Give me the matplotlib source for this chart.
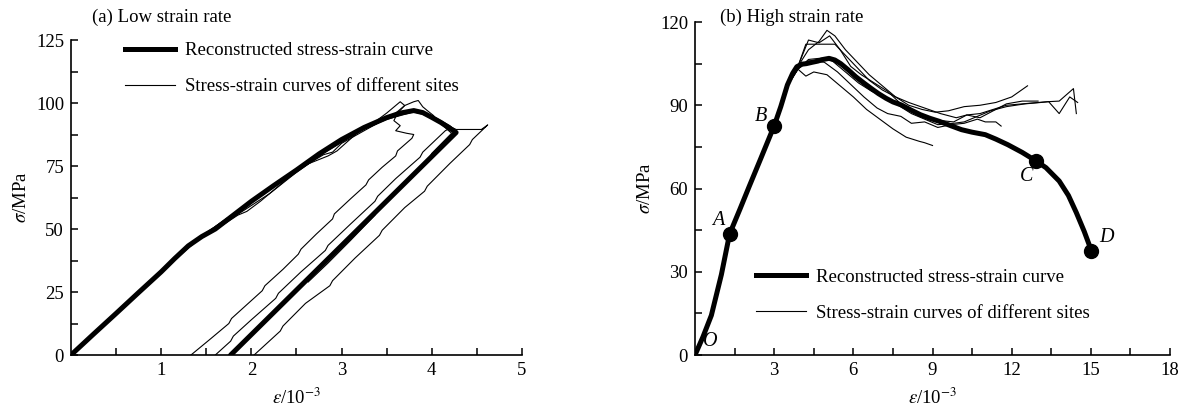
import matplotlib
matplotlib.use("Agg")
import matplotlib.pyplot as plt
from matplotlib.lines import Line2D
from matplotlib.ticker import MultipleLocator, FixedLocator

plt.rcParams['font.family'] = ['Liberation Serif', 'DejaVu Serif']
plt.rcParams['mathtext.fontset'] = 'stix'

# ---- (a) low strain rate ----
low_recon_x = [0, 0.25, 0.5, 0.75, 1.0, 1.15, 1.3, 1.45, 1.6, 1.8, 2.0, 2.25, 2.5, 2.75, 3.0,
               3.25, 3.5, 3.65, 3.8, 3.9, 4.0, 4.1, 4.2, 4.27, 1.77]
low_recon_y = [0, 8.3, 16.5, 24.8, 33, 38.3, 43.3, 47, 50, 55.5, 61, 67.3, 73.4, 79.8, 85.5,
               90.3, 94.2, 96, 97, 96.2, 94.3, 92.3, 90, 88.3, 0]

low_sites = [
    ([0, 0.3, 0.6, 1.0, 1.3, 1.6, 1.9, 2.2, 2.5, 2.8, 3.1, 3.35, 3.5, 3.65, 3.7, 3.62, 3.58,
      3.65, 3.6, 3.72, 3.8, 3.78, 3.62, 3.6, 3.45, 3.3, 3.27, 3.1, 2.92, 2.9, 2.72, 2.55,
      2.52, 2.35, 2.15, 2.12, 1.95, 1.78, 1.75, 1.55, 1.33],
     [0, 10, 20.5, 33.5, 43, 50, 57, 64, 72.5, 80, 86.5, 92, 96, 100.5, 99, 96, 93,
      91, 89, 88, 87.5, 86, 81, 79, 74.5, 69.5, 67.5, 62, 56, 54, 48, 42, 40, 34, 27.5,
      25.5, 20, 14.5, 12.5, 6.5, 0]),
    ([0, 0.3, 0.7, 1.0, 1.3, 1.7, 1.85, 1.95, 2.1, 2.5, 2.8, 2.9, 3.0, 3.3, 3.6, 3.7, 3.8,
      3.85, 3.9, 3.95, 4.02, 4.06, 4.12, 4.2, 4.15, 3.9, 3.87, 3.6, 3.4, 3.37, 3.1, 2.85,
      2.82, 2.55, 2.3, 2.27, 2.0, 1.8, 1.77, 1.6],
     [0, 9.5, 23, 33, 43.5, 52, 55.5, 57, 61, 73, 79.5, 80.5, 84, 90, 96, 99, 100.5,
      101, 98.5, 97, 95, 93, 92, 90, 89, 80.5, 78.5, 70, 63, 61, 52, 43.5, 41.5, 33, 24.5,
      22.5, 14, 7.5, 5.5, 0]),
    ([0, 0.5, 1.0, 1.3, 1.6, 2.0, 2.5, 3.0, 3.5, 3.8, 4.0, 4.2, 4.28, 4.0, 3.97, 3.6,
      3.3, 3.27, 3.0, 2.7, 2.67, 2.4, 2.0, 1.97, 1.8, 1.75],
     [0, 17, 33, 43.5, 49.5, 61.5, 73, 86, 94.5, 97.5, 95, 91, 88.5, 79, 77, 65,
      54.5, 52.5, 43.5, 33, 31, 22, 8.5, 6.5, 1, 0]),
    ([0, 0.4, 1.0, 1.4, 2.0, 2.5, 2.85, 2.95, 3.2, 3.5, 3.8, 4.0, 4.15, 4.27, 4.4, 4.55,
      4.62, 4.45, 4.42, 4.2, 3.95, 3.92, 3.7, 3.45, 3.42, 3.15, 2.9, 2.87, 2.6, 2.35,
      2.32, 2.03],
     [0, 13.5, 33.5, 46, 61, 74, 79, 81, 89, 93.5, 96.5, 94.5, 91.5, 89.5, 89.5, 89.5,
      91.3, 85.5, 83.5, 76, 67, 65, 58.5, 49.5, 47.5, 38.5, 29.5, 27.5, 20.5, 11.5,
      9.5, 0]),
    ([0, 0.5, 1.0, 1.5, 2.0, 2.5, 3.0, 3.5, 3.8, 4.0, 4.22, 4.0, 3.97, 3.7, 3.4, 3.37,
      3.1, 2.85, 2.63],
     [0, 16, 33.2, 48.5, 61, 73.8, 85.8, 94, 96.8, 94.8, 88, 80, 78, 68.5, 57.5, 55.5,
      45.5, 36.5, 29]),
]

# ---- (b) high strain rate ----
high_recon_x = [0, 0.3, 0.62, 1.0, 1.31, 1.7, 2.06, 2.5, 3.0, 3.25, 3.5, 3.7, 3.86, 4.05,
                4.22, 4.45, 4.65, 4.85, 5.08, 5.3, 5.52, 5.8, 6.09, 6.4, 6.67, 6.95, 7.24,
                7.5, 7.82, 8.2, 8.54, 8.9, 9.26, 9.7, 10.1, 10.5, 11.0, 11.4, 11.85, 12.4,
                12.93, 13.3, 13.8, 14.15, 14.45, 14.75, 15.02]
high_recon_y = [0, 6.5, 14.3, 29, 43.6, 52.5, 60.9, 71, 82.6, 89.5, 97.3, 101.5, 103.9, 104.8,
                105, 105.5, 105.9, 106.5, 106.9, 106.3, 105, 102.8, 100.3, 98, 96.1, 94.2, 92.5,
                91.2, 90.1, 88.2, 86.6, 85.3, 84.2, 82.6, 81.2, 80.3, 79.4, 77.8, 75.8, 73,
                69.9, 67.5, 62.7, 57.5, 51.3, 44.5, 37.6]

high_sites = [
    ([3.5, 3.9, 4.3, 4.7, 5.0, 5.3, 5.7, 6.1, 6.6, 7.1, 7.6, 8.1, 8.6, 9.1, 9.6, 10.2, 10.8,
      11.4, 12.0, 12.6],
     [97, 104, 110, 113, 117, 115, 110, 106, 101, 97, 93, 90, 88.5, 87.5, 88, 89.5, 90,
      91, 93, 97]),
    ([3.5, 3.9, 4.2, 4.6, 5.3, 5.7, 6.1, 6.6, 7.1, 7.6, 8.1, 8.7, 9.3, 9.9, 10.3, 10.8, 11.3,
      11.8, 12.4, 13.0, 13.4, 13.8, 14.34, 14.45],
     [97, 104, 112, 112, 112, 108, 104, 99, 95.5, 93, 91, 89, 87, 85.5, 86.5, 87, 88.5,
      90, 90.5, 91, 91.3, 91.5, 96, 87]),
    ([3.5, 3.9, 4.3, 4.8, 5.2, 5.7, 6.2, 6.7, 7.2, 7.7, 8.2, 8.7, 9.2, 9.8, 10.2, 10.7, 11.2,
      11.8, 12.5, 13.1, 13.4, 13.8, 14.2, 14.5],
     [97, 103, 106.5, 107, 106, 102, 98, 95, 93, 90, 87, 85, 83, 83.5, 84, 86, 88,
      89.5, 90.5, 91, 91.3, 87, 93, 91]),
    ([3.5, 3.9, 4.2, 4.5, 5.0, 5.5, 6.0, 6.5, 7.0, 7.5, 8.0, 8.5, 8.7, 9.0],
     [97, 103, 100.5, 102, 101, 97, 93, 88.5, 85, 81.5, 78.5, 77, 76.5, 75.5]),
    ([3.5, 3.9, 4.3, 4.9, 5.4, 5.9, 6.4, 6.9, 7.3, 7.8, 8.2, 8.7, 9.2, 9.7, 10.2, 10.7, 11.0,
      11.4, 11.6],
     [97, 103, 106, 105.5, 102, 97.5, 93, 89, 87, 86, 83.5, 84, 82, 83, 83.5, 85, 84,
      84, 82.5]),
    ([3.5, 3.9, 4.3, 4.7, 5.1, 5.5, 5.9, 6.3, 6.8, 7.3, 7.8, 8.3, 8.8, 9.3, 9.8, 10.3, 10.8,
      11.3, 11.8, 12.4, 13.0],
     [97, 104, 113.5, 112.5, 115, 110, 104, 101, 98, 95, 90.5, 87.5, 85.5, 84.5, 84, 86.5,
      85.5, 88, 90.5, 91.5, 91.5]),
]

point_x = [1.31, 3.0, 12.93, 15.02]
point_y = [43.6, 82.6, 69.9, 37.6]
label_names = ['A', 'B', 'C', 'D', 'O']
label_x = [0.88, 2.49, 12.57, 15.6, 0.59]
label_y = [48.4, 86.0, 64.5, 42.4, 4.8]

FS = 13.5
THICK = 3.6
THIN = 0.8

fig = plt.figure(figsize=(11.95, 4.12), dpi=100)
ax1 = fig.add_axes([0.0594, 0.1383, 0.3774, 0.7646])
ax2 = fig.add_axes([0.5816, 0.1383, 0.3975, 0.8083])


def style_axes(ax):
    for s in ['top', 'right']:
        ax.spines[s].set_visible(False)
    for s in ['left', 'bottom']:
        ax.spines[s].set_linewidth(1.2)
    ax.tick_params(which='both', direction='in', length=5, width=1.1, labelsize=FS,
                   pad=5)


# panel (a)
for sx, sy in low_sites:
    ax1.plot(sx, sy, color='black', lw=THIN)
ax1.plot(low_recon_x, low_recon_y, color='black', lw=THICK, solid_joinstyle='round',
         solid_capstyle='round')
ax1.set_xlim(0, 5)
ax1.set_ylim(0, 125)
ax1.xaxis.set_major_locator(FixedLocator([1, 2, 3, 4, 5]))
ax1.xaxis.set_minor_locator(FixedLocator([0.5, 1.5, 2.5, 3.5, 4.5]))
ax1.yaxis.set_major_locator(MultipleLocator(25))
ax1.yaxis.set_minor_locator(MultipleLocator(12.5))
style_axes(ax1)
ax1.set_xlabel(r'$\varepsilon$/10$^{-3}$', fontsize=FS, labelpad=6)
ax1.set_ylabel(r'$\sigma$/MPa', fontsize=FS, labelpad=4)
ax1.text(0.235, 134, '(a) Low strain rate', fontsize=FS, va='center', clip_on=False)
h = [Line2D([], [], color='black', lw=THICK), Line2D([], [], color='black', lw=THIN)]
labels = ['Reconstructed stress-strain curve', 'Stress-strain curves of different sites']
ax1.legend(h, labels, loc='upper left', bbox_to_anchor=(0.09, 1.035), frameon=False,
           fontsize=FS, handlelength=2.7, handletextpad=0.5, labelspacing=1.0,
           borderpad=0.2)

# panel (b)
for sx, sy in high_sites:
    ax2.plot(sx, sy, color='black', lw=THIN)
ax2.plot(high_recon_x, high_recon_y, color='black', lw=THICK, solid_joinstyle='round')
ax2.plot(point_x, point_y, 'o', color='black', ms=10)
for n, tx, ty in zip(label_names, label_x, label_y):
    ax2.text(tx, ty, n, fontsize=FS + 1, style='italic', ha='center', va='center')
ax2.set_xlim(0, 18)
ax2.set_ylim(0, 120)
ax2.xaxis.set_major_locator(FixedLocator([3, 6, 9, 12, 15, 18]))
ax2.xaxis.set_minor_locator(FixedLocator([1.5, 4.5, 7.5, 10.5, 13.5, 16.5]))
ax2.yaxis.set_major_locator(MultipleLocator(30))
ax2.yaxis.set_minor_locator(MultipleLocator(15))
style_axes(ax2)
ax2.set_xlabel(r'$\varepsilon$/10$^{-3}$', fontsize=FS, labelpad=6)
ax2.set_ylabel(r'$\sigma$/MPa', fontsize=FS, labelpad=4)
ax2.text(0.94, 121.8, '(b) High strain rate', fontsize=FS, va='center', clip_on=False)
ax2.legend(h, labels, loc='lower left', bbox_to_anchor=(0.1, 0.06), frameon=False,
           fontsize=FS, handlelength=2.7, handletextpad=0.5, labelspacing=1.0,
           borderpad=0.2)

fig.savefig('out.png', dpi=100)
